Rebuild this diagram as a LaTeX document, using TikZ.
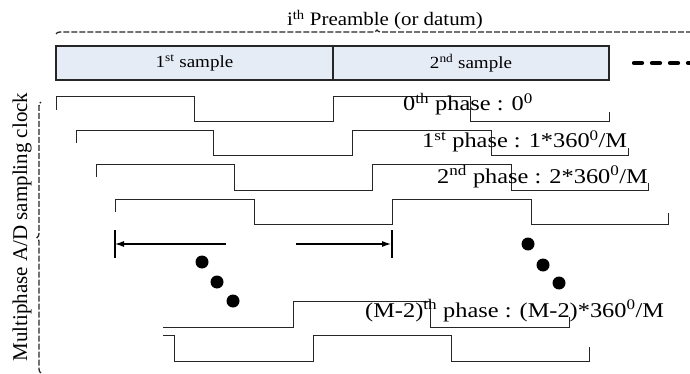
\documentclass[tikz,border=0pt]{standalone}
\usepackage{fontspec}
\setmainfont{Liberation Serif}
\usetikzlibrary{decorations.pathreplacing,arrows.meta}
\definecolor{boxfill}{HTML}{E6ECF6}
\begin{document}
\begin{tikzpicture}[x=1pt,y=-1pt,
  wave/.style={line width=1pt, draw=black!85},
  cell/.style={draw=black!85, line width=1.1pt, fill=boxfill, minimum height=34pt, inner sep=0pt, font=\fontsize{17}{19}\selectfont\addfontfeature{FakeStretch=1.12}},
  lbl/.style={font=\fontsize{21}{24}\selectfont\addfontfeature{FakeStretch=1.16}, inner sep=0pt, anchor=base west},
  bracestyle/.style={decorate, decoration={brace, amplitude=4pt}, draw=black!85, line width=1.3pt, dash pattern=on 6pt off 2pt},
  dotmark/.style={fill=black},
  bar/.style={line width=1.3pt, draw=black},
  dimarrow/.style={line width=1.1pt, -{Latex[length=9pt,width=6pt]}}]
\useasboundingbox (0,0) rectangle (690,374);

% title and brace
\node[font=\fontsize{19}{22}\selectfont\addfontfeature{FakeStretch=1.1}, inner sep=0pt, anchor=base] (title) at (385,26) {i\textsuperscript{th} Preamble (or datum)};
\coordinate (brL) at (56,34);
\coordinate (brR) at (698,34);
\draw[bracestyle] (brL) -- (brR);

% sample cells
\node[cell, minimum width=277pt] (s1) at (194.5,63) {1\textsuperscript{st} sample};
\node[cell, minimum width=276pt] (s2) at (471,63) {2\textsuperscript{nd} sample};
\coordinate (dd1) at (634,63);
\coordinate (dd2) at (700,63);
\draw[line width=4.2pt, line cap=round, dash pattern=on 8pt off 10pt] (dd1) -- (dd2);

% vertical label and brace
\node[rotate=90, font=\fontsize{21}{24}\selectfont, inner sep=0pt] (vlabel) at (22,227) {Multiphase A/D sampling clock};
\coordinate (vbB) at (41,373);
\coordinate (vbT) at (41,102);
\draw[bracestyle] (vbB) -- (vbT);

% waveforms
\draw[wave] (56,110) -- (56,97) -- (194,97) -- (194,122) -- (333,122) -- (333,97) -- (470,97) -- (470,122) -- (609,122) -- (609,112);
\draw[wave] (76,143) -- (76,131) -- (213,131) -- (213,156) -- (352,156) -- (352,131) -- (491,131) -- (491,156) -- (628,156) -- (628,148);
\draw[wave] (96,177) -- (96,165) -- (234,165) -- (234,190) -- (372,190) -- (372,165) -- (511,165) -- (511,190) -- (648,190) -- (648,183);
\draw[wave] (115,212) -- (115,199) -- (254,199) -- (254,224) -- (392,224) -- (392,199) -- (531,199) -- (531,224) -- (668,224) -- (668,213);
\draw[wave] (163,327) -- (293,327) -- (293,301) -- (430,301) -- (430,327) -- (569,327) -- (569,317);
\draw[wave] (163,335) -- (174,335) -- (174,361) -- (313,361) -- (313,335) -- (451,335) -- (451,361) -- (589,361) -- (589,347);

% phase labels
\node[lbl] (p0) at (403,111) {0\textsuperscript{th} phase : 0\textsuperscript{0}};
\node[lbl] (p1) at (422,148) {1\textsuperscript{st} phase : 1*360\textsuperscript{0}/M};
\node[lbl] (p2) at (437,183) {2\textsuperscript{nd} phase : 2*360\textsuperscript{0}/M};
\node[lbl] (pm) at (365,317) {(M-2)\textsuperscript{th} phase : (M-2)*360\textsuperscript{0}/M};

% period marker
\coordinate (bl1) at (115,230);
\coordinate (bl2) at (115,258);
\coordinate (br1) at (392,230);
\coordinate (br2) at (392,258);
\draw[bar] (bl1) -- (bl2);
\draw[bar] (br1) -- (br2);
\coordinate (al) at (226,244);
\coordinate (ar) at (296,244);
\draw[dimarrow] (al) -- (bl1 |- al);
\draw[dimarrow] (ar) -- ([xshift=-1pt]br1 |- ar);

% ellipsis dots
\fill[dotmark] (202,262) circle[radius=6.5pt];
\fill[dotmark] (217,282) circle[radius=6.5pt];
\fill[dotmark] (233,301) circle[radius=6.5pt];
\fill[dotmark] (528,244) circle[radius=6.5pt];
\fill[dotmark] (543,265) circle[radius=6.5pt];
\fill[dotmark] (559,283) circle[radius=6.5pt];
\end{tikzpicture}
\end{document}
